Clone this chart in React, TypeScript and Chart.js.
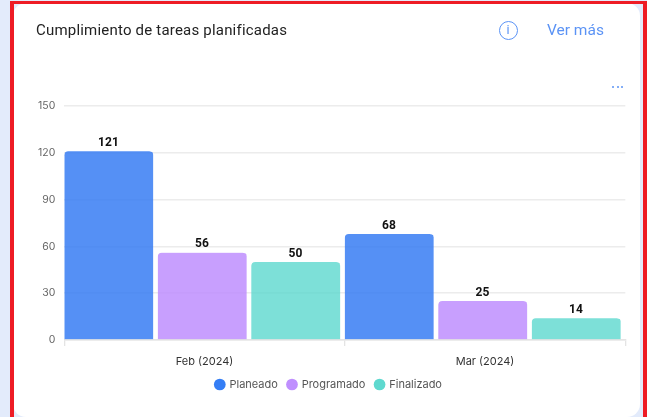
import React, { useEffect, useRef } from "react";
import { Chart, registerables } from "chart.js";

Chart.register(...registerables);

const categories = ["Feb (2024)", "Mar (2024)"];
const planeado = [121, 68];
const programado = [56, 25];
const finalizado = [50, 14];
const yTicks = [0, 30, 60, 90, 120, 150];

const FONT = "Inter, 'Noto Sans', sans-serif";

const valueLabels = {
  id: "valueLabels",
  afterDatasetsDraw(chart: any) {
    const { ctx } = chart;
    ctx.save();
    ctx.font = `700 12px Roboto, ${FONT}`;
    ctx.fillStyle = "#111";
    ctx.textAlign = "center";
    ctx.textBaseline = "bottom";
    chart.data.datasets.forEach((ds: any, i: number) => {
      chart.getDatasetMeta(i).data.forEach((bar: any, j: number) => {
        const p = bar.getProps(["x", "y", "width"], true);
        ctx.fillText(String(ds.data[j]), p.x - 2.6, p.y - 2.2);
      });
    });
    ctx.restore();
  },
};

const barStyle = {
  borderRadius: { topLeft: 4, topRight: 9, bottomLeft: 0, bottomRight: 0 },
  borderSkipped: false,
  borderWidth: { top: 0, left: 0, bottom: 0, right: 5 },
  borderColor: "rgba(0,0,0,0)",
  barPercentage: 1,
  categoryPercentage: 1,
};

export default function App() {
  const ref = useRef<HTMLCanvasElement>(null);
  useEffect(() => {
    const chart = new Chart(ref.current!, {
      type: "bar",
      data: {
        labels: categories,
        datasets: [
          { label: "Planeado", data: planeado, backgroundColor: "rgba(50,122,243,0.83)", ...barStyle },
          { label: "Programado", data: programado, backgroundColor: "rgba(189,140,254,0.83)", ...barStyle },
          { label: "Finalizado", data: finalizado, backgroundColor: "rgba(92,216,206,0.8)", ...barStyle },
        ],
      } as any,
      plugins: [valueLabels],
      options: {
        animation: false,
        responsive: false,
        layout: { padding: { left: 32.3, right: 21.7, top: 106, bottom: 17 } },
        plugins: {
          title: { display: false },
          tooltip: { enabled: false },
          legend: {
            position: "bottom",
            labels: {
              usePointStyle: true,
              pointStyle: "circle",
              boxWidth: 8.3,
              boxHeight: 8.3,
              padding: 10,
              color: "#555",
              font: { family: FONT, size: 11 },
              generateLabels: () =>
                [
                  ["Planeado", "#357ef5"],
                  ["Programado", "#bf8ffe"],
                  ["Finalizado", "#5fd9cf"],
                ].map(([text, c], i) => ({
                  text,
                  fillStyle: c,
                  strokeStyle: c,
                  lineWidth: 0,
                  pointStyle: "circle",
                  datasetIndex: i,
                  fontColor: "#555",
                })),
            },
          },
        },
        scales: {
          x: {
            afterFit: (s: any) => { s.height = 29; },
            grid: { color: "#e4e4e4", drawOnChartArea: false, tickLength: 6, lineWidth: 1.3 },
            border: { color: "#e4e4e4", width: 1.5 },
            ticks: { color: "#333", font: { family: FONT, size: 11 }, padding: 9, maxRotation: 0 },
          },
          y: {
            min: 0,
            max: 150,
            afterFit: (s: any) => { s.width = 32; },
            afterBuildTicks: (s: any) => { s.ticks = yTicks.map((value) => ({ value })); },
            grid: { color: "#ececec", drawTicks: false, lineWidth: 1.5 },
            border: { display: false },
            ticks: { color: "#666", font: { family: FONT, size: 10.5 }, padding: 9 },
          },
        },
      },
    } as any);
    return () => chart.destroy();
  }, []);

  const dot = (x: number) => (
    <div key={x} style={{ position: "absolute", left: x - 1, top: 85.5, width: 2, height: 2, borderRadius: "50%", background: "#5b93f5" }} />
  );

  return (
    <div style={{ position: "absolute", left: 0, top: 0, width: 647, height: 417, overflow: "hidden", background: "#e3ebfb", fontFamily: "Roboto, sans-serif" }}>
      <div style={{ position: "absolute", left: 13, top: 3, width: 627, height: 414, background: "#fff", borderRadius: 13 }} />
      <canvas ref={ref} width={647} height={417} style={{ position: "absolute", left: 0, top: 0, width: 647, height: 417 }} />
      <div style={{ position: "absolute", left: 9.5, top: 1, width: 637.5, height: 3.3, background: "#ee1c25" }} />
      <div style={{ position: "absolute", left: 9.5, top: 1, width: 4, height: 416, background: "#ee1c25" }} />
      <div style={{ position: "absolute", left: 643.3, top: 1, width: 3.7, height: 416, background: "#ee1c25" }} />
      <div style={{ position: "absolute", left: 36, top: 20, fontSize: 15, lineHeight: "20px", color: "#222", letterSpacing: 0.2 }}>Cumplimiento de tareas planificadas</div>
      <div style={{ position: "absolute", left: 547, top: 20, fontSize: 15.5, lineHeight: "20px", color: "#5b93f5" }}>Ver más</div>
      <div style={{ position: "absolute", left: 498.5, top: 21, width: 19, height: 19, boxSizing: "border-box", border: "1.5px solid #5b93f5", borderRadius: "50%", color: "#5b93f5", fontSize: 12.5, lineHeight: "16px", textAlign: "center" }}>i</div>
      {[613, 617.7, 622.4].map(dot)}
    </div>
  );
}
